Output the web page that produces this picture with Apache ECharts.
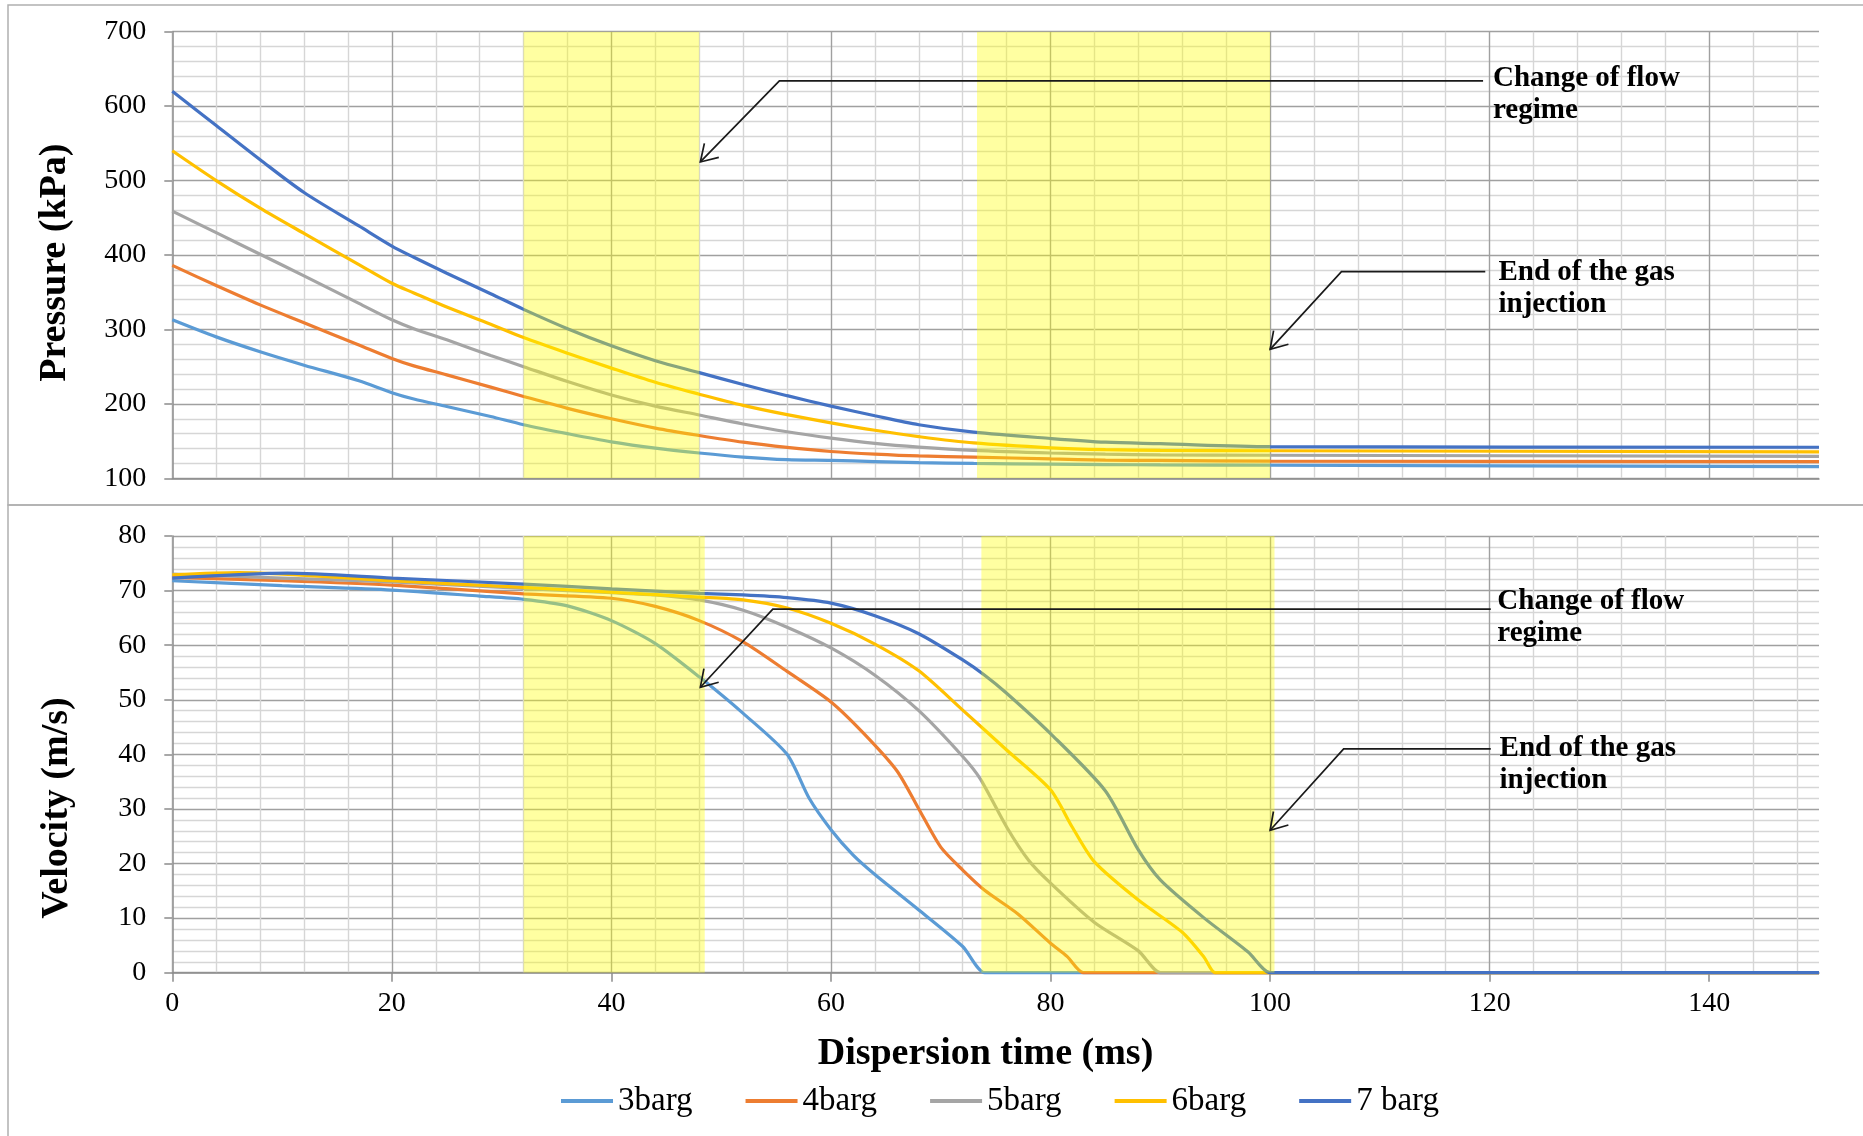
<!DOCTYPE html>
<html><head><meta charset="utf-8">
<script src="https://cdn.jsdelivr.net/npm/echarts@6/dist/echarts.min.js"></script>
<style>html,body{margin:0;padding:0;background:#fff;}#c{width:1863px;height:1136px;}</style>
</head><body><div id="c"></div>
<script>
// ---------- data ----------
const SERIES_NAMES = ['3barg', '4barg', '5barg', '6barg', '7 barg'];
const COLORS = ['#5B9BD5', '#ED7D31', '#A5A5A5', '#FFC000', '#4472C4'];

// Pressure (kPa) vs dispersion time (ms)
const P_TIME = [0, 4, 8, 12, 17, 20, 22, 25, 29, 32, 36, 40, 44, 48, 52, 56, 60, 64, 68, 73, 80, 85, 90, 100, 150];
const P_3 = [313, 290, 270, 252, 231, 215, 206.5, 196.5, 183, 172, 160, 149, 140.5, 134, 128.5, 125, 124, 122.5, 121, 120, 119, 118.5, 118, 117.5, 115.6];
const P_4 = [386, 359, 333, 309, 279, 261, 251, 239, 222.5, 210, 194, 180, 167.5, 157.5, 148.5, 141.5, 136, 132.5, 130, 128.5, 126, 124.5, 124, 123, 122.5];
const P_5 = [459, 430, 401, 372, 335, 313, 301, 286, 265, 250, 230, 212, 197, 185, 173, 162.5, 154, 147, 142, 137.5, 134, 132.5, 131.5, 131, 129.5];
const P_6 = [540, 500, 463, 429, 387, 362, 349, 330, 307, 289, 268, 248, 229, 213, 198, 185.5, 174.5, 164.5, 156, 147.5, 141, 138.5, 137.5, 137, 135.5];
const P_7 = [620, 574, 528, 484, 439, 412, 397, 375.5, 348, 327, 301, 278, 258, 242, 226, 211, 197, 184, 172, 162, 153.5, 148.5, 146.5, 142.5, 141.7];

// Velocity (m/s) vs dispersion time (ms)
const V3_TIME = [0, 10, 20, 28, 32, 36, 40, 44, 48, 52, 56, 58, 60, 62, 64, 68, 72, 74, 76, 150];
const V3 = [71.8, 70.9, 70.1, 69.0, 68.4, 67.2, 64.5, 60.3, 54.2, 47.5, 40.0, 32.0, 26.2, 21.6, 18.0, 11.5, 4.8, 0, 0, 0];
const V4_TIME = [0, 10, 20, 32, 40, 44, 48, 52, 56, 60, 63, 66, 68, 70, 72, 74, 77, 80, 81.5, 83, 85, 150];
const V4 = [72.4, 71.8, 71.0, 69.4, 68.6, 67.1, 64.5, 60.6, 55.2, 49.6, 43.8, 37.0, 30.0, 23.0, 18.8, 15.1, 10.8, 5.4, 3.0, 0, 0, 0];
const V5_TIME = [0, 10, 20, 32, 40, 44, 48, 52, 56, 60, 64, 68, 72, 73.6, 76, 78, 80, 84, 88, 90, 92, 150];
const V5 = [73.0, 72.3, 71.6, 70.4, 69.6, 69.2, 68.3, 66.4, 63.3, 59.5, 54.5, 48.0, 39.6, 35.5, 26.7, 20.6, 16.4, 9.2, 4.0, 0, 0, 0];
const V6_TIME = [0, 6, 20, 32, 40, 48, 52, 56, 60, 64, 68, 72, 76, 80, 82, 84, 88, 92, 94, 95, 97, 150];
const V6 = [72.9, 73.3, 71.8, 70.6, 69.7, 68.8, 68.3, 66.8, 64.0, 60.2, 55.3, 48.1, 40.8, 33.5, 26.6, 20.3, 13.3, 7.4, 2.8, 0, 0, 0];
const V7_TIME = [0, 10.5, 20, 32, 40, 48, 52, 56, 60, 64, 68, 72, 74, 76, 80, 85, 88, 90, 94, 98, 100, 102, 150];
const V7 = [72.3, 73.2, 72.3, 71.2, 70.3, 69.5, 69.2, 68.7, 67.7, 65.4, 62.1, 57.3, 54.5, 51.2, 43.8, 33.3, 22.5, 17.0, 10.0, 3.8, 0, 0, 0];

// Highlighted (yellow) time windows, ms
const P_BANDS = [[32, 48], [73.3, 100]];
const V_BANDS = [[32, 48.5], [73.7, 100.4]];

// Axis ticks
const X_TICKS = [0, 20, 40, 60, 80, 100, 120, 140];
const X_MAX = 150;
const P_MIN = 100, P_MAX = 700, P_STEP = 100;
const V_MIN = 0, V_MAX = 80, V_STEP = 10;

// Annotations (data coordinates)
const ANNOTATIONS = [
  { grid: 0, label: 'Change of flow\nregime', tip: [48.1, 525], elbow: [55.3, 634], lineEnd: 119.4, text: [120.3, 637] },
  { grid: 0, label: 'End of the gas\ninjection', tip: [100.0, 273.3], elbow: [106.5, 377.6], lineEnd: 119.6, text: [120.8, 376] },
  { grid: 1, label: 'Change of flow\nregime', tip: [48.1, 52.3], elbow: [54.7, 66.6], lineEnd: 120.1, text: [120.7, 68.0] },
  { grid: 1, label: 'End of the gas\ninjection', tip: [100.0, 26.1], elbow: [106.7, 41.0], lineEnd: 120.1, text: [120.9, 41.0] }
];

// ---------- chart ----------
const FONT = '"Liberation Serif", "Times New Roman", serif';
const MAJOR = '#a0a0a0', MINOR = '#d6d6d6', AXIS = '#8c8c8c';
const chart = echarts.init(document.getElementById('c'), null, { renderer: 'canvas' });

const zip = (xs, ys) => xs.map((x, i) => [x, ys[i]]);
const P_VALUES = [P_3, P_4, P_5, P_6, P_7];
const V_SETS = [[V3_TIME, V3], [V4_TIME, V4], [V5_TIME, V5], [V6_TIME, V6], [V7_TIME, V7]];

function mainX(gridIndex, withLabels) {
  return {
    type: 'value', gridIndex, min: 0, max: X_MAX, interval: 20,
    axisLine: { show: true, onZero: false, lineStyle: { color: AXIS, width: 1.5 } },
    axisTick: withLabels ? { show: true, length: 9, customValues: X_TICKS, lineStyle: { color: AXIS, width: 1.5 } } : { show: false },
    axisLabel: withLabels ? { show: true, customValues: X_TICKS, margin: 17, color: '#000', fontFamily: FONT, fontSize: 28 } : { show: false },
    splitLine: { show: true, showMaxLine: false, lineStyle: { color: MAJOR, width: 1.4 } },
    z: 3
  };
}
function minorX(gridIndex) {
  return {
    type: 'value', gridIndex, min: 0, max: X_MAX, interval: 4, position: 'top',
    axisLine: { show: false }, axisTick: { show: false }, axisLabel: { show: false },
    splitLine: { show: true, showMaxLine: false, lineStyle: { color: ['rgba(0,0,0,0)', MINOR, MINOR, MINOR, MINOR], width: 1.4 } },
    z: 2
  };
}
function yAx(gridIndex, min, max, step) {
  return {
    type: 'value', gridIndex, min, max, interval: step,
    axisLine: { show: true, onZero: false, lineStyle: { color: AXIS, width: 1.5 } },
    axisTick: { show: true, length: 8, lineStyle: { color: AXIS, width: 1.5 } },
    axisLabel: { show: true, margin: 26, color: '#000', fontFamily: FONT, fontSize: 28 },
    splitLine: { show: true, lineStyle: { color: MAJOR, width: 1.4 } },
    minorTick: { show: false, splitNumber: 5 },
    minorSplitLine: { show: true, lineStyle: { color: MINOR, width: 1.4 } }
  };
}
function bandSeries(name, data, xi, yi) {
  return {
    type: 'custom', name, xAxisIndex: xi, yAxisIndex: yi, z: 10, silent: true, clip: true,
    data,
    encode: { x: [0, 1] },
    renderItem: (params, api) => {
      const a = api.coord([api.value(0), 0]);
      const b = api.coord([api.value(1), 0]);
      const cs = params.coordSys;
      return { type: 'rect', shape: { x: a[0], y: cs.y, width: b[0] - a[0], height: cs.height },
               style: { fill: 'rgba(255,255,0,0.37)' } };
    }
  };
}

const series = [];
SERIES_NAMES.forEach((name, i) => {
  series.push({
    type: 'line', name, xAxisIndex: 0, yAxisIndex: 0, data: zip(P_TIME, P_VALUES[i]),
    showSymbol: false, symbol: 'none', smooth: 0.3, clip: false, z: 5,
    lineStyle: { color: COLORS[i], width: 3.2 }, itemStyle: { color: COLORS[i] }
  });
});
SERIES_NAMES.forEach((name, i) => {
  series.push({
    type: 'line', name, xAxisIndex: 2, yAxisIndex: 1, data: zip(V_SETS[i][0], V_SETS[i][1]),
    showSymbol: false, symbol: 'none', smooth: 0.25, clip: false, z: 5,
    lineStyle: { color: COLORS[i], width: 3.2 }, itemStyle: { color: COLORS[i] }
  });
});
series.push(bandSeries('bandP', P_BANDS, 0, 0));
series.push(bandSeries('bandV', V_BANDS, 2, 1));

chart.setOption({
  animation: false,
  backgroundColor: '#fff',
  grid: [
    { left: 172.3, top: 31.7, width: 1646.7, height: 446.6 },
    { left: 172.3, top: 536, width: 1646.7, height: 436.7 }
  ],
  xAxis: [mainX(0, false), minorX(0), mainX(1, true), minorX(1)],
  yAxis: [yAx(0, P_MIN, P_MAX, P_STEP), yAx(1, V_MIN, V_MAX, V_STEP)],
  legend: {
    data: SERIES_NAMES, left: 556, top: 1079, orient: 'horizontal',
    icon: 'rect', itemWidth: 52, itemHeight: 4, itemGap: 53,
    textStyle: { color: '#000', fontFamily: FONT, fontSize: 33, lineHeight: 34 }
  },
  series
});

// ---------- graphics (frames, axis titles, annotations) ----------
const g = [
  { type: 'rect', shape: { x: 8, y: 5, width: 1900, height: 500 }, style: { fill: null, stroke: '#b0b0b0', lineWidth: 1.5 }, z: 0, silent: true },
  { type: 'rect', shape: { x: 8, y: 505, width: 1900, height: 700 }, style: { fill: null, stroke: '#b0b0b0', lineWidth: 1.5 }, z: 0, silent: true },
  { type: 'text', x: 54.7, y: 262.7, rotation: Math.PI / 2, style: { text: 'Pressure (kPa)', fill: '#000', fontFamily: FONT, fontSize: 38, fontWeight: 'bold', align: 'center', verticalAlign: 'middle' }, z: 50 },
  { type: 'text', x: 57, y: 808, rotation: Math.PI / 2, style: { text: 'Velocity (m/s)', fill: '#000', fontFamily: FONT, fontSize: 38, fontWeight: 'bold', align: 'center', verticalAlign: 'middle' }, z: 50 },
  { type: 'text', x: 985.5, y: 1054, style: { text: 'Dispersion time (ms)', fill: '#000', fontFamily: FONT, fontSize: 38, fontWeight: 'bold', align: 'center', verticalAlign: 'middle' }, z: 50 }
];

ANNOTATIONS.forEach(a => {
  const conv = p => chart.convertToPixel({ gridIndex: a.grid }, p);
  const tip = conv(a.tip), elbow = conv(a.elbow), end = conv([a.lineEnd, a.elbow[1]]);
  const tp = conv(a.text);
  const ang = Math.atan2(elbow[1] - tip[1], elbow[0] - tip[0]);
  const L = 19, da = 32 * Math.PI / 180;
  const arm1 = [tip[0] + L * Math.cos(ang - da), tip[1] + L * Math.sin(ang - da)];
  const arm2 = [tip[0] + L * Math.cos(ang + da), tip[1] + L * Math.sin(ang + da)];
  g.push({ type: 'polyline', shape: { points: [end, elbow, tip] }, style: { stroke: '#1a1a1a', lineWidth: 1.7, fill: null }, z: 60, silent: true });
  g.push({ type: 'polyline', shape: { points: [arm1, tip, arm2] }, style: { stroke: '#1a1a1a', lineWidth: 1.7, fill: null }, z: 60, silent: true });
  g.push({ type: 'text', x: tp[0], y: tp[1] - 16, style: { text: a.label, fill: '#000', fontFamily: FONT, fontSize: 29, fontWeight: 'bold', lineHeight: 32, align: 'left', verticalAlign: 'top' }, z: 60 });
});

chart.setOption({ graphic: g });
</script>
</body></html>
